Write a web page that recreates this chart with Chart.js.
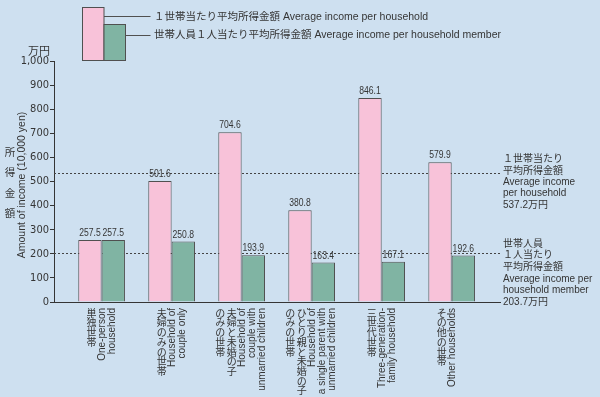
<!DOCTYPE html>
<html>
<head>
<meta charset="utf-8">
<script src="https://cdn.jsdelivr.net/npm/chart.js@4.4.1/dist/chart.umd.min.js"></script>
<style>
html,body{margin:0;padding:0;background:#cee0f0;}
canvas{display:block;}
</style>
</head>
<body>
<canvas id="c" width="600" height="397"></canvas>
<script>
// ---- data ----
const categoriesJP = [
  ["単独世帯"],
  ["夫婦のみの世帯"],
  ["夫婦と未婚の子", "のみの世帯"],
  ["ひとり親と未婚の子", "のみの世帯"],
  ["三世代世帯"],
  ["その他の世帯"]
];
const categoriesEN = [
  ["One-person", "household"],
  ["Household of", "couple only"],
  ["Household of", "couple with", "unmarried children"],
  ["Household of", "a single parent with", "unmarried children"],
  ["Three-generation-", "family household"],
  ["Other households"]
];
const perHousehold = [257.5, 501.6, 704.6, 380.8, 846.1, 579.9];
const perMember    = [257.5, 250.8, 193.9, 163.4, 167.1, 192.6];
const avgPerHousehold = 537.2;
const avgPerMember = 203.7;
const yTicks = [0, 100, 200, 300, 400, 500, 600, 700, 800, 900, 1000];
const seriesNames = [
  "１世帯当たり平均所得金額 Average income per household",
  "世帯人員１人当たり平均所得金額 Average income per household member"
];
const avgNoteHousehold = ["１世帯当たり", "平均所得金額", "Average income", "per household", "537.2万円"];
const avgNoteMember = ["世帯人員", "１人当たり", "平均所得金額", "Average income per", "household member", "203.7万円"];
const unitLabel = "万円";
const yTitleJP = "所得金額";
const yTitleEN = "Amount of income (10,000 yen)";

// ---- styles ----
const INK = '#353535';
const EDGE = '#505050';
const PINK = '#f8c2d9';
const TEAL = '#80b4a3';
const BG = '#cee0f0';
const FONT = '"Liberation Sans", "Noto Sans CJK JP", sans-serif';
const JPFONT = '"Noto Sans CJK JP", "Liberation Sans", sans-serif';
const NARROW = '"Liberation Sans Narrow", "DejaVu Sans Condensed", "Liberation Sans", sans-serif';

function narrowText(c, txt, x, y, perChar) {
  const w = c.measureText(txt).width;
  const target = txt.length * perChar;
  const s = Math.min(1, target / w);
  c.save();
  c.translate(x, y);
  c.scale(s, 1);
  c.fillText(txt, 0, 0);
  c.restore();
}

const deco = {
  id: 'deco',
  beforeDraw(chart) {
    const c = chart.ctx;
    c.save();
    c.fillStyle = BG;
    c.fillRect(0, 0, chart.width, chart.height);
    c.restore();
  },
  beforeDatasetsDraw(chart) {
    const c = chart.ctx, y = chart.scales.y, a = chart.chartArea;
    c.save();
    c.strokeStyle = '#444';
    c.lineWidth = 1;
    c.setLineDash([2, 2]);
    [avgPerHousehold, avgPerMember].forEach(v => {
      const py = Math.round(y.getPixelForValue(v)) + 0.5;
      c.beginPath(); c.moveTo(a.left, py); c.lineTo(a.right, py); c.stroke();
    });
    c.restore();
  },
  afterDraw(chart) {
    const c = chart.ctx, x = chart.scales.x, y = chart.scales.y, a = chart.chartArea;
    c.save();
    // value labels
    c.fillStyle = INK;
    c.font = '11px ' + FONT;
    c.textAlign = 'center';
    c.textBaseline = 'alphabetic';
    chart.data.datasets.forEach((ds, di) => {
      chart.getDatasetMeta(di).data.forEach((el, i) => {
        const v = (di === 0 ? perHousehold : perMember)[i];
        narrowText(c, v.toFixed(1), el.x, el.y - 4, 4.3);
      });
    });
    // category labels
    categoriesJP.forEach((cols, i) => {
      const cx = x.getPixelForValue(i);
      c.font = '10px ' + JPFONT;
      c.textAlign = 'center';
      c.textBaseline = 'middle';
      cols.forEach((txt, k) => {
        const colX = cx - 10 - k * 11.5;
        [...txt].forEach((ch, j) => c.fillText(ch, colX, 313 + j * 9.7));
      });
      c.font = '10px ' + FONT;
      categoriesEN[i].forEach((txt, k) => {
        const colX = cx + 1 + k * 10;
        c.save();
        c.translate(colX, 308);
        c.rotate(-Math.PI / 2);
        c.textAlign = 'right';
        c.textBaseline = 'middle';
        c.fillText(txt, 0, 0);
        c.restore();
      });
    });
    // unit label
    c.font = '11px ' + JPFONT;
    c.textAlign = 'right';
    c.textBaseline = 'middle';
    c.fillText(unitLabel, 50, 51);
    // y titles
    c.font = '10.5px ' + JPFONT;
    c.textAlign = 'center';
    [...yTitleJP].forEach((ch, j) => c.fillText(ch, 10, 152 + j * 20.5));
    c.save();
    c.translate(22, 185);
    c.rotate(-Math.PI / 2);
    c.font = '10.5px ' + FONT;
    c.textAlign = 'center';
    c.textBaseline = 'middle';
    c.fillText(yTitleEN, 0, 0);
    c.restore();
    // right notes
    c.font = '10px ' + FONT;
    c.textAlign = 'left';
    c.textBaseline = 'middle';
    const y1 = y.getPixelForValue(avgPerHousehold);
    avgNoteHousehold.forEach((t, k) => c.fillText(t, a.right + 3, y1 - 1.5 + (k - 1) * 11.3));
    const y0 = y.getPixelForValue(0);
    avgNoteMember.forEach((t, k) => c.fillText(t, a.right + 3, y0 - (avgNoteMember.length - 1 - k) * 11.6));
    // legend
    c.lineWidth = 1;
    c.strokeStyle = EDGE;
    c.fillStyle = PINK;
    c.fillRect(82.5, 7.5, 21.5, 53);
    c.strokeRect(82.5, 7.5, 21.5, 53);
    c.fillStyle = TEAL;
    c.fillRect(104, 24.5, 21.5, 36);
    c.strokeRect(104, 24.5, 21.5, 36);
    c.beginPath(); c.moveTo(104, 16.5); c.lineTo(150.5, 16.5); c.stroke();
    c.beginPath(); c.moveTo(125.5, 35.5); c.lineTo(150.5, 35.5); c.stroke();
    c.fillStyle = INK;
    c.font = '10.5px ' + FONT;
    c.fillText(seriesNames[0], 154, 17);
    c.fillText(seriesNames[1], 154, 35.5);
    c.restore();
  }
};

new Chart(document.getElementById('c'), {
  type: 'bar',
  data: {
    datasets: [
      { label: seriesNames[0], data: perHousehold.map((v, i) => ({ x: i, y: v })),
        backgroundColor: PINK, borderColor: EDGE, borderWidth: 1,
        categoryPercentage: 0.667, barPercentage: 1 },
      { label: seriesNames[1], data: perMember.map((v, i) => ({ x: i, y: v })),
        backgroundColor: TEAL, borderColor: EDGE, borderWidth: 1,
        categoryPercentage: 0.667, barPercentage: 1 }
    ]
  },
  options: {
    responsive: false,
    animation: false,
    devicePixelRatio: 1,
    layout: { padding: { top: 61, right: 100, bottom: 0, left: 0 } },
    plugins: { legend: { display: false }, tooltip: { enabled: false } },
    scales: {
      x: {
        type: 'linear', min: -0.68, max: 5.69, offset: false,
        grid: { display: false, offset: false },
        ticks: { display: false },
        border: { color: INK, width: 1 },
        afterBuildTicks: s => { s.ticks = categoriesEN.map((_, i) => ({ value: i })); },
        afterFit: s => { s.height = 95; }
      },
      y: {
        min: 0, max: 1000,
        afterBuildTicks: s => { s.ticks = yTicks.map(v => ({ value: v })); },
        ticks: { color: INK, font: { family: NARROW, size: 11 }, padding: 1,
                 callback: v => v.toLocaleString('en-US') },
        grid: { drawOnChartArea: false, drawTicks: true, tickLength: 4, color: INK },
        border: { color: INK, width: 1 },
        afterFit: s => { s.width = 54; }
      }
    }
  },
  plugins: [deco]
});
</script>
</body>
</html>
